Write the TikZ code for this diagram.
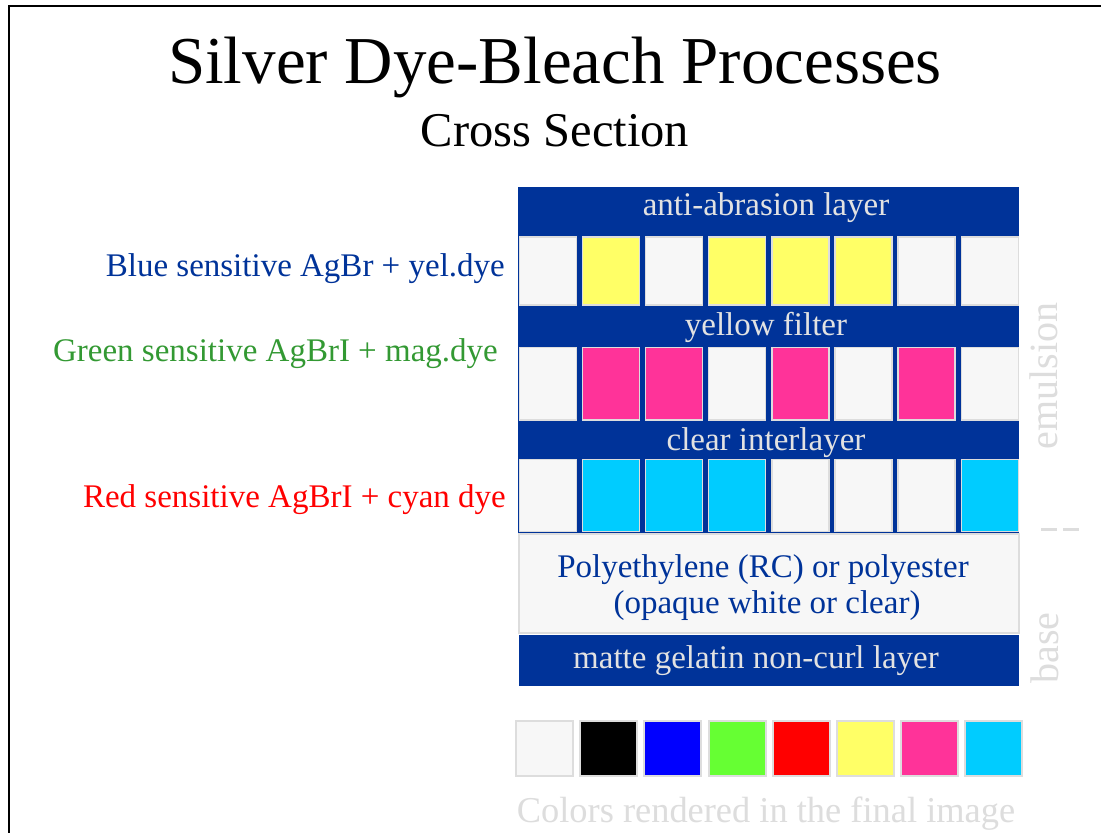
\documentclass[tikz,border=0pt]{standalone}
\usepackage{fontspec}
\setmainfont{Liberation Serif}
\definecolor{dkblue}{HTML}{003399}
\definecolor{cellgray}{HTML}{DDDDDD}
\definecolor{paper}{HTML}{F7F7F7}
\definecolor{dyey}{HTML}{FFFF66}
\definecolor{dyem}{HTML}{FF3399}
\definecolor{dyec}{HTML}{00CCFF}
\definecolor{swgreen}{HTML}{66FF33}
\definecolor{lblgreen}{HTML}{339933}
\definecolor{faintgray}{HTML}{DDDDDD}
\definecolor{bandtext}{HTML}{E2E2E2}
\begin{document}
\begin{tikzpicture}[x=1pt,y=-1pt,
  txt/.style={anchor=base, inner sep=0pt, font=\fontsize{33}{36}\selectfont},
  lefttxt/.style={anchor=base east, inner sep=0pt, font=\fontsize{33}{36}\selectfont},
  bandtxt/.style={txt, text=bandtext},
  cellbox/.style={draw=cellgray, line width=1.3pt},
  swatch/.style={draw=cellgray, line width=2pt},
  sidetxt/.style={anchor=base, inner sep=0pt, rotate=90, text=faintgray, font=\fontsize{40}{42}\selectfont}
]
\useasboundingbox (0,0) rectangle (1101,833);
\clip (0,0) rectangle (1101,833);
\fill[white] (0,0) rectangle (1101,833);
% frame
\draw[line width=2.2pt] (9,850) -- (9,6) -- (1120,6);

% title
\node[anchor=base, inner sep=0pt, font=\fontsize{67}{70}\selectfont] (title) at (555,83) {Silver Dye-Bleach Processes};
\node[anchor=base, inner sep=0pt, font=\fontsize{48.5}{50}\selectfont] (subtitle) at (555,146) {Cross Section};

% emulsion stack background (dark blue bands)
\fill[dkblue] (518,187) rectangle (1019,533);

% rows of cells
\foreach \c [count=\i from 0] in {paper,dyey,paper,dyey,dyey,dyey,paper,paper}
  \filldraw[cellbox, fill=\c] ({519.5+63.1*\i},237) rectangle +(57,68);
\foreach \c [count=\i from 0] in {paper,dyem,dyem,paper,dyem,paper,dyem,paper}
  \filldraw[cellbox, fill=\c] ({519.5+63.1*\i},347.5) rectangle +(57,72.5);
\foreach \c [count=\i from 0] in {paper,dyec,dyec,dyec,paper,paper,paper,dyec}
  \filldraw[cellbox, fill=\c] ({519.5+63.1*\i},459.5) rectangle +(57,72);

% base
\filldraw[cellbox, fill=paper] (519,534) rectangle (1019,633);
\fill[dkblue] (519,635) rectangle (1019,686);

% band texts
\node[bandtxt] (abr) at (766,215) {anti-abrasion layer};
\node[bandtxt] (yf) at (766,335) {yellow filter};
\node[bandtxt] (ci) at (766,450) {clear interlayer};
\node[txt, text=dkblue] (poly1) at (763,577) {Polyethylene (RC) or polyester};
\node[txt, text=dkblue] (poly2) at (767,613) {(opaque white or clear)};
\node[bandtxt] (matte) at (756,668) {matte gelatin non-curl layer};

% left labels
\node[lefttxt, text=dkblue] (lb) at (505,276) {Blue sensitive AgBr + yel.dye};
\node[lefttxt, text=lblgreen] (lg) at (498,361) {Green sensitive AgBrI + mag.dye};
\node[lefttxt, text=red] (lr) at (506,507) {Red sensitive AgBrI + cyan dye};

% side labels
\node[sidetxt] (emul) at (1057,376) {emulsion};
\node[sidetxt] (baselbl) at (1058,648) {base};
\fill[faintgray] (1041,527.5) rectangle (1057,530.5);
\fill[faintgray] (1063,527.5) rectangle (1079,530.5);

% swatches
\foreach \c [count=\i from 0] in {paper,black,blue,swgreen,red,dyey,dyem,dyec}
  \filldraw[swatch, fill=\c] ({516+64.2*\i},721) rectangle +(57,55);
\node[anchor=base, inner sep=0pt, text=faintgray, font=\fontsize{36.4}{38}\selectfont] (cap) at (766,822) {Colors rendered in the final image};
\end{tikzpicture}
\end{document}
